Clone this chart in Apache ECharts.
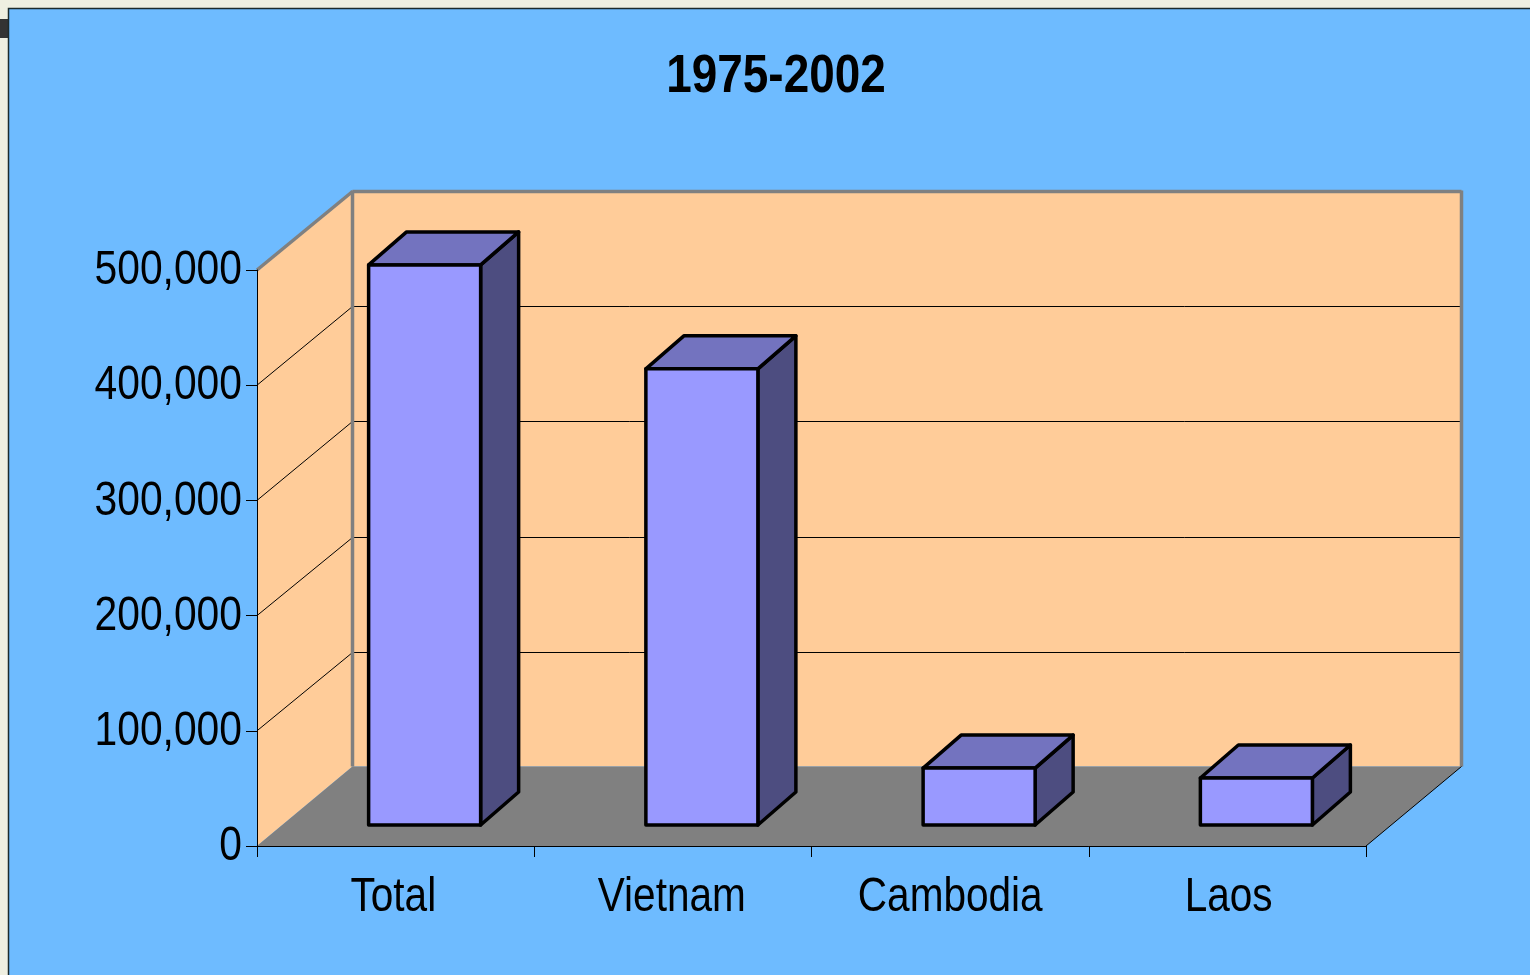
<!DOCTYPE html>
<html>
<head>
<meta charset="utf-8">
<style>html,body{margin:0;padding:0;background:#EFEFE1}#c{width:1530px;height:975px}</style>
<script src="https://cdn.jsdelivr.net/npm/echarts@6/dist/echarts.min.js"></script>
</head>
<body>
<div id="c"></div>
<script>
var titleText = '1975-2002';
var categories = ['Total', 'Vietnam', 'Cambodia', 'Laos'];
var values = [486200, 396000, 49400, 40800];
var yTicks = [0, 100000, 200000, 300000, 400000, 500000];

var WALL_DX = 95.5, WALL_DY = -79.5;   // depth of the floor
var BAR_DX = 29, BAR_DY = -21;         // where a bar's front face stands on the floor
var DEPTH_DX = 38, DEPTH_DY = -33;     // depth of a bar
var BAR_RATIO = 0.404;
var FONT = '"Liberation Sans",Arial,sans-serif';
var Y_SQUEEZE = 0.85, X_SQUEEZE = 0.845; // the reference's type is horizontally condensed
var LABEL_SIZE = 48;

function poly(points, fill, stroke, lw) {
  return {
    type: 'polygon',
    shape: { points: points },
    style: { fill: fill, stroke: stroke || null, lineWidth: lw || 0, lineJoin: 'round' }
  };
}
function seg(x1, y1, x2, y2, color, lw) {
  return {
    type: 'line',
    shape: { x1: x1, y1: y1, x2: x2, y2: y2 },
    style: { stroke: color, lineWidth: lw, fill: null }
  };
}
function label(text, x, y, align, squeeze) {
  return {
    type: 'text',
    x: x, y: y,
    scaleX: squeeze,
    style: {
      text: text, fill: '#000', font: LABEL_SIZE + 'px ' + FONT,
      align: align, verticalAlign: 'middle'
    }
  };
}

function renderRoom(params, api) {
  var g = params.coordSys;
  var l = g.x, r = g.x + g.width, t = g.y, b = g.y + g.height;
  var dx = WALL_DX, dy = WALL_DY;
  return {
    type: 'group',
    children: [
      poly([[l + dx, t + dy], [r + dx, t + dy], [r + dx, b + dy], [l + dx, b + dy]], '#FFCC99'),
      poly([[l, t], [l + dx, t + dy], [l + dx, b + dy], [l, b]], '#FFCC99'),
      poly([[l, b], [l + dx, b + dy], [r + dx, b + dy], [r, b]], '#808080')
    ]
  };
}
function renderRoomEdges(params, api) {
  var g = params.coordSys;
  var l = g.x, r = g.x + g.width, t = g.y, b = g.y + g.height;
  var dx = WALL_DX, dy = WALL_DY;
  return {
    type: 'group',
    children: [
      seg(l, t, l + dx, t + dy + 1, '#808080', 3.5),
      seg(l + dx, t + dy + 1, r + dx, t + dy + 1, '#808080', 3.5),
      seg(l + dx, t + dy, l + dx, b + dy, '#808080', 3.5),
      seg(r + dx, t + dy, r + dx, b + dy, '#808080', 3.5),
      seg(r, b, r + dx, b + dy, '#000000', 1)
    ]
  };
}
function renderGridline(params, api) {
  var g = params.coordSys;
  var y = api.coord([0, api.value(0)])[1];
  var l = g.x, r = g.x + g.width;
  var yBack = Math.round(y - 79) + 0.5;
  return {
    type: 'group',
    children: [
      seg(l, y, l + WALL_DX, yBack, '#000000', 1),
      seg(l + WALL_DX, yBack, r + WALL_DX, yBack, '#000000', 1)
    ]
  };
}
function renderBar(params, api) {
  var top = api.coord([api.value(0), api.value(1)]);
  var base = api.coord([api.value(0), 0]);
  var w = api.size([1, 0])[0] * BAR_RATIO;
  var x0 = top[0] - w / 2 + BAR_DX, x1 = x0 + w;
  var yt = top[1] + BAR_DY, yb = base[1] + BAR_DY;
  var dx = DEPTH_DX, dy = DEPTH_DY;
  return {
    type: 'group',
    children: [
      poly([[x1, yt], [x1 + dx, yt + dy], [x1 + dx, yb + dy], [x1, yb]], '#4D4D80', '#000', 3.5),
      poly([[x0, yt], [x0 + dx, yt + dy], [x1 + dx, yt + dy], [x1, yt]], '#7373BF', '#000', 3.5),
      poly([[x0, yt], [x1, yt], [x1, yb], [x0, yb]], '#9999FF', '#000', 3.5)
    ]
  };
}
function renderYLabel(params, api) {
  var p = api.coord([0, api.value(0)]);
  return label(api.value(0).toLocaleString('en-US'), params.coordSys.x - 15, p[1] + 1, 'right', Y_SQUEEZE);
}
function renderXLabel(params, api) {
  var i = api.value(0);
  var p = api.coord([i, 0]);
  return label(categories[i], p[0] - 0.5 + (i - 1.5) * 1.2, p[1] + 52, 'center', X_SQUEEZE);
}

var chart = echarts.init(document.getElementById('c'), null, { renderer: 'canvas' });
chart.setOption({
  backgroundColor: '#EFEFE1',
  animation: false,
  graphic: [
    { type: 'rect', z: -10, shape: { x: 0, y: 19, width: 9, height: 19 }, style: { fill: '#333333' } },
    { type: 'rect', z: -10, shape: { x: 8.5, y: 8.5, width: 1600, height: 1100 },
      style: { fill: '#6EBBFF', stroke: '#1c2a2c', lineWidth: 1.5 } },
    { type: 'text', z: 10, x: 776, y: 77, scaleX: 0.85,
      style: { text: titleText, fill: '#000', font: 'bold 54px ' + FONT, align: 'center', verticalAlign: 'middle' } }
  ],
  grid: { left: 257, right: 164, top: 270, bottom: 129, containLabel: false },
  xAxis: {
    type: 'category',
    data: categories,
    z: 3,
    axisLine: { show: true, lineStyle: { color: '#000', width: 1 } },
    axisTick: { show: true, length: 11, alignWithLabel: false, lineStyle: { color: '#000', width: 1 } },
    axisLabel: { show: false },
    splitLine: { show: false }
  },
  yAxis: {
    type: 'value',
    min: 0,
    max: yTicks[yTicks.length - 1],
    interval: yTicks[1],
    z: 3,
    axisLine: { show: true, lineStyle: { color: '#000', width: 1 } },
    axisTick: { show: true, length: 11, lineStyle: { color: '#000', width: 1 } },
    axisLabel: { show: false },
    splitLine: { show: false }
  },
  series: [
    { type: 'custom', z: 1, silent: true, clip: false, data: [0], renderItem: renderRoom },
    { type: 'custom', z: 2, silent: true, clip: false, encode: { y: 0 },
      data: yTicks.slice(1, -1).map(function (v) { return [v]; }), renderItem: renderGridline },
    { type: 'custom', z: 2, silent: true, clip: false, data: [0], renderItem: renderRoomEdges },
    { type: 'custom', z: 4, silent: true, clip: false, encode: { x: 0, y: 1 },
      data: values.map(function (v, i) { return [i, v]; }), renderItem: renderBar },
    { type: 'custom', z: 5, silent: true, clip: false, encode: { y: 0 },
      data: yTicks.map(function (v) { return [v]; }), renderItem: renderYLabel },
    { type: 'custom', z: 5, silent: true, clip: false, encode: { x: 0 },
      data: categories.map(function (c, i) { return [i]; }), renderItem: renderXLabel }
  ]
});
</script>
</body>
</html>
